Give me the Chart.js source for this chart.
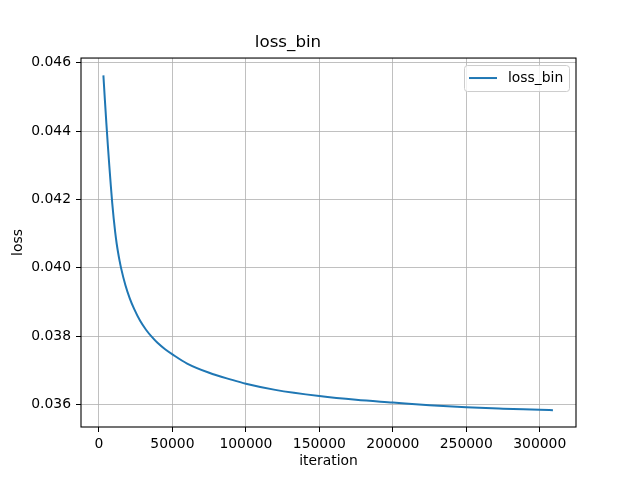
<!DOCTYPE html>
<html>
<head>
<meta charset="utf-8">
<script src="https://cdn.jsdelivr.net/npm/chart.js@4.4.0/dist/chart.umd.min.js"></script>
<style>
  html, body { margin: 0; padding: 0; background: #fff; }
  canvas { display: block; }
</style>
</head>
<body>
<canvas id="lossChart" width="640" height="480"></canvas>
<script>
// datos
const iterations = [3000, 4000, 5000, 6000, 7000, 8000, 9000, 10000, 11000, 12000, 13000, 14000, 15000,
  18000, 21000, 24000, 28000, 32000, 36000, 40000, 45000, 50000, 60000, 75000, 90000, 100000,
  120000, 150000, 175000, 200000, 225000, 250000, 275000, 300000, 309000];
const lossBin = [0.04563, 0.04492, 0.04424, 0.04360, 0.04300, 0.04243, 0.04190, 0.04145, 0.04105, 0.04072,
  0.04045, 0.04021, 0.04000, 0.03949, 0.03910, 0.03879, 0.03845, 0.03819, 0.03798, 0.03780, 0.03762,
  0.03747, 0.03720, 0.03693, 0.03673, 0.03661, 0.03643, 0.03625, 0.03614, 0.03606, 0.03598, 0.03592,
  0.03588, 0.035848, 0.035835];

const xTicks = [0, 50000, 100000, 150000, 200000, 250000, 300000];
const yTicks = [0.036, 0.038, 0.040, 0.042, 0.044, 0.046];

Chart.defaults.font.family = "'DejaVu Sans', sans-serif";
Chart.defaults.font.size = 13.9;
Chart.defaults.color = '#000';

// marco completo y leyenda estilo matplotlib
const marco = {
  id: 'marco',
  afterDraw(chart) {
    const c = chart.ctx;
    const a = chart.chartArea;
    c.save();
    c.strokeStyle = '#000';
    c.lineWidth = 1.1;
    c.strokeRect(a.left, a.top, a.right - a.left, a.bottom - a.top);

    // leyenda
    const ds = chart.data.datasets[0];
    const x0 = a.right - 112, y0 = a.top + 7, w = 105, h = 26;
    c.fillStyle = 'rgba(255,255,255,0.8)';
    c.strokeStyle = '#cccccc';
    c.lineWidth = 1;
    c.beginPath();
    c.roundRect(x0 + 0.5, y0 + 0.5, w, h, 3);
    c.fill();
    c.stroke();
    c.strokeStyle = ds.borderColor;
    c.lineWidth = ds.borderWidth;
    c.beginPath();
    c.moveTo(x0 + 5, y0 + 13);
    c.lineTo(x0 + 33, y0 + 13);
    c.stroke();
    c.fillStyle = '#000';
    c.font = "13.9px 'DejaVu Sans'";
    c.textBaseline = 'middle';
    c.fillText(ds.label, x0 + 44, y0 + 13.5);
    c.restore();
  }
};

const ctx = document.getElementById('lossChart');

const grafico = new Chart(ctx, {
  type: 'line',
  data: {
    datasets: [{
      label: 'loss_bin',
      data: iterations.map((it, i) => ({ x: it, y: lossBin[i] })),
      borderColor: '#1f77b4',
      borderWidth: 2,
      pointRadius: 0,
      fill: false,
      cubicInterpolationMode: 'monotone'
    }]
  },
  options: {
    responsive: false,
    animation: false,
    layout: { padding: { left: 0, right: 64, top: 33, bottom: 0 } },
    plugins: {
      legend: { display: false },
      tooltip: { enabled: false },
      title: {
        display: true,
        text: 'loss_bin',
        font: { size: 16.7, weight: 'normal' },
        padding: { top: 0, bottom: 5 },
        color: '#000'
      }
    },
    scales: {
      x: {
        type: 'linear',
        min: -12245,
        max: 324700,
        afterFit: (s) => { s.height = 53; },
        afterBuildTicks: (s) => { s.ticks = xTicks.map(v => ({ value: v })); },
        grid: { color: '#b0b0b0', lineWidth: 0.8, tickLength: 5, tickColor: '#000', tickWidth: 1 },
        border: { display: false },
        ticks: { padding: 4, maxRotation: 0, callback: (v) => String(v) },
        title: { display: true, text: 'iteration', padding: { top: 0, bottom: 10 } }
      },
      y: {
        min: 0.035344,
        max: 0.046138,
        afterFit: (s) => { s.width = 81; },
        afterBuildTicks: (s) => { s.ticks = yTicks.map(v => ({ value: v })); },
        grid: { color: '#b0b0b0', lineWidth: 0.8, tickLength: 5, tickColor: '#000', tickWidth: 1 },
        border: { display: false },
        ticks: { padding: 5, callback: (v) => v.toFixed(3) },
        title: { display: true, text: 'loss', padding: { top: 10, bottom: 0 } }
      }
    }
  },
  plugins: [marco]
});
</script>
</body>
</html>
